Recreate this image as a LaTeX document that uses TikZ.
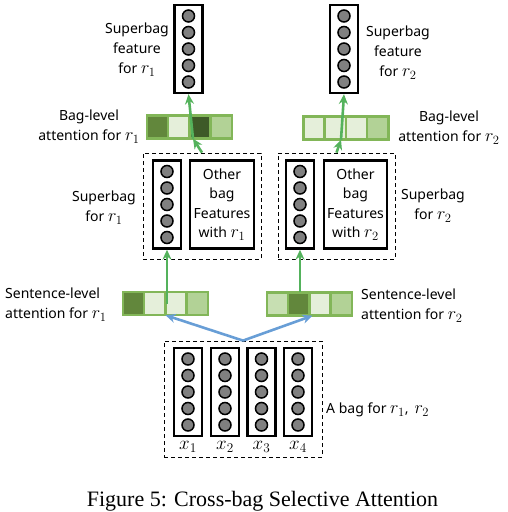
\documentclass[tikz,border=0pt]{standalone}
\usepackage{fix-cm}
\usepackage[no-math]{fontspec}
\setmainfont{Noto Sans}
\newfontfamily\capfont{Liberation Serif}
\usetikzlibrary{arrows.meta,calc}
\definecolor{gborder}{RGB}{130,182,88}
\definecolor{gA}{RGB}{229,239,218}
\definecolor{gB}{RGB}{199,223,178}
\definecolor{gC}{RGB}{178,210,150}
\definecolor{gD}{RGB}{98,135,60}
\definecolor{gE}{RGB}{62,90,40}
\definecolor{garr}{RGB}{84,178,92}
\definecolor{barr}{RGB}{104,158,214}
% five neurons in a column box
\newcommand{\neurons}[1]{\foreach \k in {-2,...,2}{\node[neuron] at ($(#1.center)+(0,\k*16.5)$) {};}}
% four attention cells in a bar
\newcommand{\attcells}[5]{\foreach \c/\col in {1/#2,2/#3,3/#4,4/#5}{\node[cell,fill=\col] (#1-\c) at ($(#1.west)+(\c*21.25-10.625,0)$) {};}}
% relation symbol, set larger
\newcommand{\rel}[1]{{\fontsize{18}{20}\selectfont$r_{#1}$}}
\begin{document}
\begin{tikzpicture}[x=1pt,y=-1pt,
  vec/.style={draw,line width=2.4pt,minimum width=28pt,minimum height=88pt,inner sep=0pt},
  neuron/.style={circle,draw,line width=1.5pt,fill=gray,minimum size=12pt,inner sep=0pt},
  cell/.style={draw=gborder,line width=2.6pt,minimum width=21.25pt,minimum height=23pt,inner sep=0pt},
  attbar/.style={minimum width=85pt,minimum height=23pt,inner sep=0pt},
  dashbox/.style={draw,dash pattern=on 4pt off 3pt,line width=0.8pt,inner sep=0pt},
  lbl/.style={font=\fontsize{14}{20}\selectfont,align=center,inner sep=0pt},
  garrow/.style={draw=garr,line width=2.6pt,-{Stealth[length=10pt,width=9pt]}},
  barrow/.style={draw=barr,line width=2.6pt,-{Stealth[length=10pt,width=9pt]}}]
\useasboundingbox (0,0) rectangle (508,512);

%superbag features at the top
\node[vec] (feat1) at (188.5,49) {};
\node[vec] (feat2) at (344,49) {};
\neurons{feat1}
\neurons{feat2}
\node[lbl] (featlbl1) at (137,50) {Superbag\\feature\\for \rel{1}};
\node[lbl] (featlbl2) at (398,53) {Superbag\\feature\\for \rel{2}};

%bag-level attention
\node[attbar] (bagatt1) at (189.5,127) {};
\node[attbar] (bagatt2) at (346,128) {};
\attcells{bagatt1}{gD}{gA}{gE}{gC}
\attcells{bagatt2}{gA}{gA}{gA}{gC}
\node[lbl] (bagattlbl1) at (89,127) {Bag-level\\attention for \rel{1}};
\node[lbl] (bagattlbl2) at (449,128) {Bag-level\\attention for \rel{2}};

%superbags
\node[dashbox,minimum width=118pt,minimum height=106pt] (sbag1) at (202,206) {};
\node[dashbox,minimum width=117pt,minimum height=106pt] (sbag2) at (336.5,206) {};
\node[vec] (col1) at (167,204.5) {};
\node[vec] (col2) at (300,204.5) {};
\neurons{col1}
\neurons{col2}
\node[vec,minimum width=64pt,lbl,font=\fontsize{14}{19.5}\selectfont] (other1) at (222,204.5) {Other\\bag\\Features\\with \rel{1}};
\node[vec,minimum width=63pt,lbl,font=\fontsize{14}{19.5}\selectfont] (other2) at (355.5,204.5) {Other\\bag\\Features\\with \rel{2}};
\node[lbl] (sbaglbl1) at (104,208) {Superbag\\for \rel{1}};
\node[lbl] (sbaglbl2) at (433,206) {Superbag\\for \rel{2}};

%sentence-level attention
\node[attbar] (sent1) at (165.5,303.5) {};
\node[attbar] (sent2) at (309.5,304) {};
\attcells{sent1}{gD}{gA}{gA}{gC}
\attcells{sent2}{gB}{gD}{gA}{gC}
\node[lbl,align=left,anchor=west] (sentlbl1) at (5,305) {Sentence-level\\attention for \rel{1}};
\node[lbl,align=left,anchor=west] (sentlbl2) at (361,306) {Sentence-level\\attention for \rel{2}};

%the bag of sentences
\node[dashbox,minimum width=158pt,minimum height=116pt] (bag) at (243,399) {};
\foreach \i/\x in {1/188,2/225,3/261.5,4/298}{
  \node[vec] (x\i) at (\x,392) {};
  \neurons{x\i}
  \node[lbl,font=\fontsize{19}{20}\selectfont] (xlbl\i) at (\x,447) {$x_\i$};
}
\node[lbl,anchor=west] (baglbl) at (326,410) {A bag for \rel{1},\, \rel{2}};

%arrows
\draw[barrow] (bag.north) -- (sent1.south);
\draw[barrow] (bag.north) -- ($(sent2.south)+(3,0)$);
\draw[garrow] (col1.south |- sent1.center) -- (col1.south);
\draw[garrow] (col2.south |- sent2.north) -- (col2.south);
\draw[garrow] (sbag1.north) -- ($(bagatt1.south)+(3.5,0)$);
\draw[garrow] ($(bagatt1.south)+(3.5,0)$) -- (feat1.south);
\draw[garrow] (sbag2.north) -- ($(bagatt2.south)+(-5,0)$);
\draw[garrow] ($(bagatt2.south)+(-5,0)$) -- (feat2.south);

\node[font=\capfont\fontsize{22}{24}\selectfont,inner sep=0pt,anchor=base] (caption) at (262.5,506) {Figure 5: Cross-bag Selective Attention};
\end{tikzpicture}
\end{document}
